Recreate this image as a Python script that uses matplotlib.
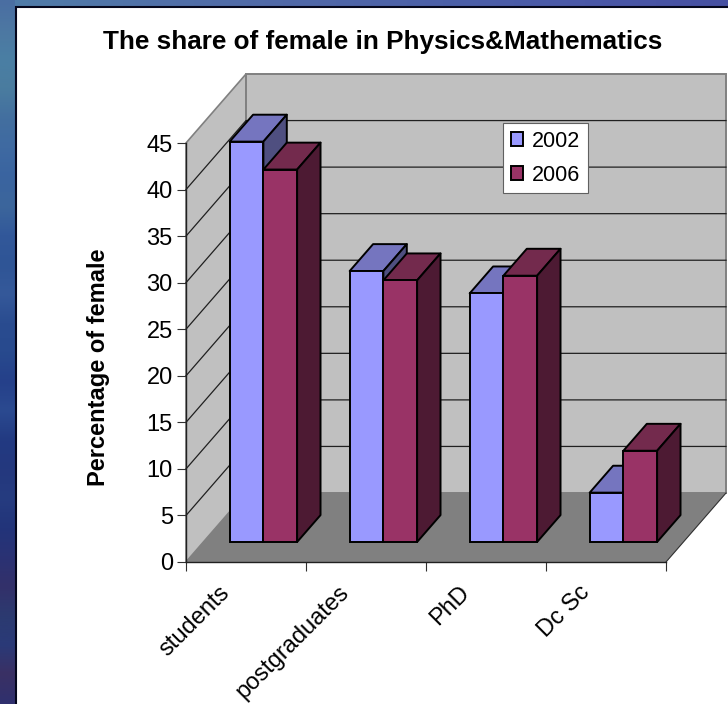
import numpy as np
import matplotlib
matplotlib.use("Agg")
import matplotlib.pyplot as plt
from matplotlib.colors import LinearSegmentedColormap
from matplotlib.patches import Polygon, Rectangle
from matplotlib.transforms import ScaledTranslation

plt.rcParams["font.family"] = ["Liberation Sans", "DejaVu Sans"]

categories = ["students", "postgraduates", "PhD", "Dc Sc"]
years = ["2002", "2006"]
values_2002 = [43, 29.1, 26.7, 5.3]
values_2006 = [40, 28.1, 28.6, 9.8]
y_ticks = [0, 5, 10, 15, 20, 25, 30, 35, 40, 45]

# slide backdrop colours: down the left edge, then along the top edge
side_colors = ["#4a6ea2", "#4d78a2", "#4a7fa4", "#4a7c9f", "#436f9f", "#3f6aa2", "#3a64a0",
               "#3c669c", "#32589a", "#2f5596", "#35599a", "#2a4c90", "#284a8e", "#25408a",
               "#2b4a90", "#223a82", "#24387e", "#263c80", "#22347a", "#2a3274", "#33306a",
               "#2c3a70", "#2a3a78", "#3a3064", "#30306e"]
top_colors = ["#4f7ca8", "#5070a8", "#5068a8", "#4c60a8", "#4a58a8", "#4650a2"]

W, H = 728, 704

# oblique projection settings, in data units per unit of depth
DEPTH_X = 0.5
DEPTH_Y = 7.41
BAR_W = 0.281
BAR_FRONT = 0.29
BAR_BACK = 0.68
BAR_GAP = 0.219


def project(x, y, depth):
    return (x + depth * DEPTH_X, y + depth * DEPTH_Y)


def draw_faces(ax, x0, value, front, top, side, z):
    floor = BAR_FRONT * DEPTH_Y
    x_start = x0 + BAR_FRONT * DEPTH_X
    d = BAR_BACK - BAR_FRONT
    h = value + floor
    top_pts = [(x_start, h), (x_start + BAR_W, h),
               (x_start + BAR_W + d * DEPTH_X, h + d * DEPTH_Y),
               (x_start + d * DEPTH_X, h + d * DEPTH_Y)]
    side_pts = [(x_start + BAR_W, floor), (x_start + BAR_W, h),
                (x_start + BAR_W + d * DEPTH_X, h + d * DEPTH_Y),
                (x_start + BAR_W + d * DEPTH_X, floor + d * DEPTH_Y)]
    for pts, color in ((top_pts, top), (side_pts, side)):
        ax.add_patch(Polygon(pts, closed=True, facecolor=color, edgecolor="black",
                             linewidth=1.4, joinstyle="round", zorder=z, clip_on=False))
    bar = ax.bar(x_start, value, BAR_W, bottom=floor, align="edge", color=front,
                 edgecolor="black", linewidth=1.4, zorder=z + 0.5, clip_on=False)
    return bar


fig = plt.figure(figsize=(W / 100, H / 100), dpi=100)

# slide backdrop and white chart panel
bg = fig.add_axes([0, 0, 1, 1])
side_cmap = LinearSegmentedColormap.from_list("side", side_colors)
top_cmap = LinearSegmentedColormap.from_list("top", top_colors)
bg.imshow(np.linspace(0, 1, 256).reshape(-1, 1), cmap=side_cmap, aspect="auto", extent=[0, W, H, 0])
bg.imshow(np.linspace(0, 1, 256).reshape(1, -1), cmap=top_cmap, aspect="auto", extent=[15, W, 7, 0])
bg.set_xlim(0, W)
bg.set_ylim(H, 0)
bg.axis("off")
bg.add_patch(Rectangle((16, 7), W, H, facecolor="white", edgecolor="#04061c", linewidth=1.5))

# main axes: category positions on x, percentage on y
ax = fig.add_axes([186 / W, 1 - 562 / H, 480 / W, 419 / H])
ax.set_xlim(0, 4)
ax.set_ylim(0, 45)
ax.patch.set_alpha(0)

n = len(categories)
top_y = y_ticks[-1]

# left wall, back wall and floor
ax.add_patch(Polygon([project(0, 0, 0), project(0, top_y, 0), project(0, top_y, 1), project(0, 0, 1)],
                     facecolor="#c0c0c0", edgecolor="#808080", linewidth=1.2, zorder=1, clip_on=False))
ax.add_patch(Polygon([project(0, 0, 1), project(0, top_y, 1), project(n, top_y, 1), project(n, 0, 1)],
                     facecolor="#c0c0c0", edgecolor="#808080", linewidth=1.4, zorder=1, clip_on=False))
ax.add_patch(Polygon([project(0, 0, 0), project(n, 0, 0), project(n, 0, 1), project(0, 0, 1)],
                     facecolor="#808080", edgecolor="none", zorder=1.2, clip_on=False))
ax.plot(*zip(project(n, 0, 0), project(n, 0, 1)), color="#303030", lw=0.8, zorder=1.3, clip_on=False)

# gridlines on the walls
for t in y_ticks[1:-1]:
    ax.plot(*zip(project(0, t, 0), project(0, t, 1), project(n, t, 1)),
            color="#202020", lw=0.9, zorder=1.5, clip_on=False)

bars = []
for i in range(n):
    b1 = draw_faces(ax, i + BAR_GAP, values_2002[i], "#9999ff", "#7575bf", "#4f4f80", 3)
    b2 = draw_faces(ax, i + BAR_GAP + BAR_W, values_2006[i], "#993366", "#732a4d", "#4d1a33", 4)
    bars = [b1, b2]

for s in ("top", "right"):
    ax.spines[s].set_visible(False)
for s in ("left", "bottom"):
    ax.spines[s].set_color("#202020")
    ax.spines[s].set_linewidth(1.0)
    ax.spines[s].set_zorder(6)

ax.set_yticks(y_ticks)
ax.tick_params(axis="y", length=6.5, width=0.8, color="#303030", labelsize=17, pad=3)
ax.set_xticks(range(n + 1))
ax.set_xticklabels([])
ax.tick_params(axis="x", which="major", length=6.5, width=0.8, color="#303030")

# category names sit between the ticks
ax.set_xticks(np.arange(n) + 0.5, minor=True)
ax.set_xticklabels(categories, minor=True, rotation=45, ha="right", va="top",
                   rotation_mode="anchor", fontsize=17)
ax.tick_params(axis="x", which="minor", length=0, pad=14)
shift = ScaledTranslation(-20 / 72, 0, fig.dpi_scale_trans)
for label in ax.get_xticklabels(minor=True):
    label.set_transform(label.get_transform() + shift)

ax.set_ylabel("Percentage of female", fontweight="bold", fontsize=17)
ax.yaxis.set_label_coords((110 - 186) / 480, 1 - (367 - 143) / 419)

leg = ax.legend(bars, years, loc="upper left",
                bbox_to_anchor=((503 - 186) / 480, 1 - (123 - 143) / 419),
                fontsize=15.5, handlelength=0.6, handleheight=0.6, handletextpad=0.4,
                labelspacing=0.62, borderpad=0.35, borderaxespad=0, fancybox=False,
                framealpha=1, edgecolor="#606060")
leg.set_zorder(7)
leg.get_frame().set_linewidth(0.8)

fig.text(383 / W, 1 - 42 / H, "The share of female in Physics&Mathematics",
         ha="center", va="center", fontweight="bold", fontsize=18.8)

fig.savefig("out.png", dpi=100)
